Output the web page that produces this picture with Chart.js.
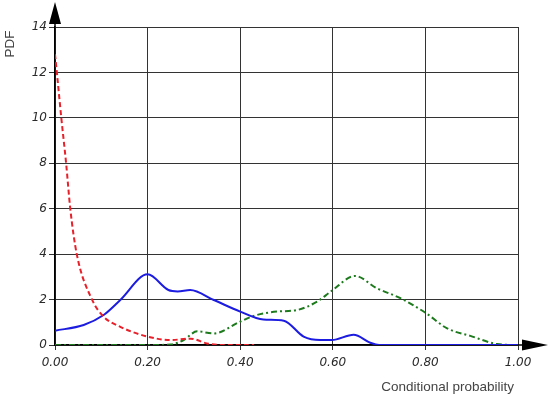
<!DOCTYPE html>
<html>
<head>
<meta charset="utf-8">
<script src="https://cdn.jsdelivr.net/npm/chart.js@4"></script>
<style>
  html, body { margin: 0; padding: 0; background: #fff; }
  #wrap { width: 550px; height: 399px; }
</style>
</head>
<body>
<div id="wrap"><canvas id="pdfChart"></canvas></div>
<script>
// values
const redX = [0, 0.004, 0.0136, 0.024, 0.033, 0.047, 0.08, 0.105, 0.141, 0.2, 0.25, 0.293, 0.328, 0.36, 0.43];
const redY = [12.8, 12, 10, 8, 6, 4, 2.0, 1.25, 0.8, 0.37, 0.22, 0.28, 0.07, 0, 0];

const blueX = [0, 0.062, 0.105, 0.141, 0.2, 0.245, 0.265, 0.292, 0.343, 0.4, 0.45, 0.494, 0.537, 0.573, 0.598, 0.645, 0.681, 0.70, 0.85, 1.0];
const blueY = [0.63, 0.88, 1.32, 1.98, 3.11, 2.42, 2.36, 2.42, 1.98, 1.47, 1.12, 1.07, 0.37, 0.22, 0.22, 0.45, 0.1, 0, 0, 0];

const greenX = [0, 0.1, 0.2, 0.25, 0.278, 0.307, 0.343, 0.4, 0.429, 0.479, 0.523, 0.566, 0.598, 0.648, 0.695, 0.746, 0.80, 0.847, 0.897, 0.955, 0.99];
const greenY = [0, 0, 0, 0.02, 0.22, 0.6, 0.51, 1.03, 1.28, 1.47, 1.54, 1.91, 2.39, 3.04, 2.50, 2.06, 1.42, 0.73, 0.40, 0.04, 0];

const xTicks = [0, 0.2, 0.4, 0.6, 0.8, 1.0];
const yTicks = [0, 2, 4, 6, 8, 10, 12, 14];

const xTitle = 'Conditional probability';
const yTitle = 'PDF';

const toPoints = (xs, ys) => xs.map((x, i) => ({ x: x, y: ys[i] }));

// arrow heads at the ends of both axes, plus the two axis titles
const axisArrows = {
    id: 'axisArrows',
    afterDraw(chart) {
        const ctx = chart.ctx;
        const area = chart.chartArea;
        const x0 = chart.scales.x.getPixelForValue(0);
        const y0 = chart.scales.y.getPixelForValue(0);
        ctx.save();
        ctx.fillStyle = '#000';
        ctx.strokeStyle = '#000';
        ctx.lineWidth = 1.5;
        ctx.beginPath();
        ctx.moveTo(x0, area.top);
        ctx.lineTo(x0, area.top - 6);
        ctx.moveTo(area.right, y0);
        ctx.lineTo(area.right + 6, y0);
        ctx.stroke();
        // y arrow
        ctx.beginPath();
        ctx.moveTo(x0, 2);
        ctx.lineTo(x0 - 6, 24);
        ctx.lineTo(x0 + 6, 24);
        ctx.closePath();
        ctx.fill();
        // x arrow
        ctx.beginPath();
        ctx.moveTo(548, y0);
        ctx.lineTo(522, y0 - 5.5);
        ctx.lineTo(522, y0 + 5.5);
        ctx.closePath();
        ctx.fill();

        ctx.fillStyle = '#444';
        ctx.font = '13.5px "Liberation Sans"';
        ctx.textAlign = 'right';
        ctx.textBaseline = 'middle';
        ctx.fillText(xTitle, area.right - 4, 387);
        ctx.translate(10, 44);
        ctx.rotate(-Math.PI / 2);
        ctx.textAlign = 'center';
        ctx.fillText(yTitle, 0, 0);
        ctx.restore();
    }
};

const ctx = document.getElementById('pdfChart').getContext('2d');
new Chart(ctx, {
    type: 'line',
    data: {
        datasets: [
            {
                label: 'red',
                data: toPoints(redX, redY),
                borderColor: '#e8202a',
                borderWidth: 2,
                borderDash: [5, 3],
                pointRadius: 0,
                cubicInterpolationMode: 'monotone',
                fill: false
            },
            {
                label: 'blue',
                data: toPoints(blueX, blueY),
                borderColor: '#1c1ce0',
                borderWidth: 2,
                pointRadius: 0,
                cubicInterpolationMode: 'monotone',
                fill: false
            },
            {
                label: 'green',
                data: toPoints(greenX, greenY),
                borderColor: '#1d7a1d',
                borderWidth: 2,
                borderDash: [6, 3, 2, 3],
                pointRadius: 0,
                cubicInterpolationMode: 'monotone',
                fill: false
            }
        ]
    },
    options: {
        responsive: true,
        maintainAspectRatio: false,
        animation: false,
        layout: { padding: { top: 27, right: 32, left: 0, bottom: 0 } },
        plugins: {
            legend: { display: false },
            tooltip: { enabled: false }
        },
        scales: {
            x: {
                type: 'linear',
                min: 0,
                max: 1,
                afterFit: s => { s.height = 54; },
                afterBuildTicks: s => { s.ticks = xTicks.map(v => ({ value: v })); },
                grid: { color: '#333', lineWidth: 1, tickLength: 5 },
                border: { color: '#000', width: 1.5 },
                ticks: {
                    color: '#2a2a2a',
                    padding: 6,
                    font: { family: 'DejaVu Sans', size: 12, style: 'italic' },
                    callback: v => v.toFixed(2)
                }
            },
            y: {
                min: 0,
                max: 14,
                afterFit: s => { s.width = 55; },
                afterBuildTicks: s => { s.ticks = yTicks.map(v => ({ value: v })); },
                grid: { color: '#333', lineWidth: 1, tickLength: 6 },
                border: { color: '#000', width: 1.5 },
                ticks: {
                    color: '#2a2a2a',
                    padding: 2,
                    font: { family: 'DejaVu Sans', size: 12, style: 'italic' }
                }
            }
        }
    },
    plugins: [axisArrows]
});
</script>
</body>
</html>
